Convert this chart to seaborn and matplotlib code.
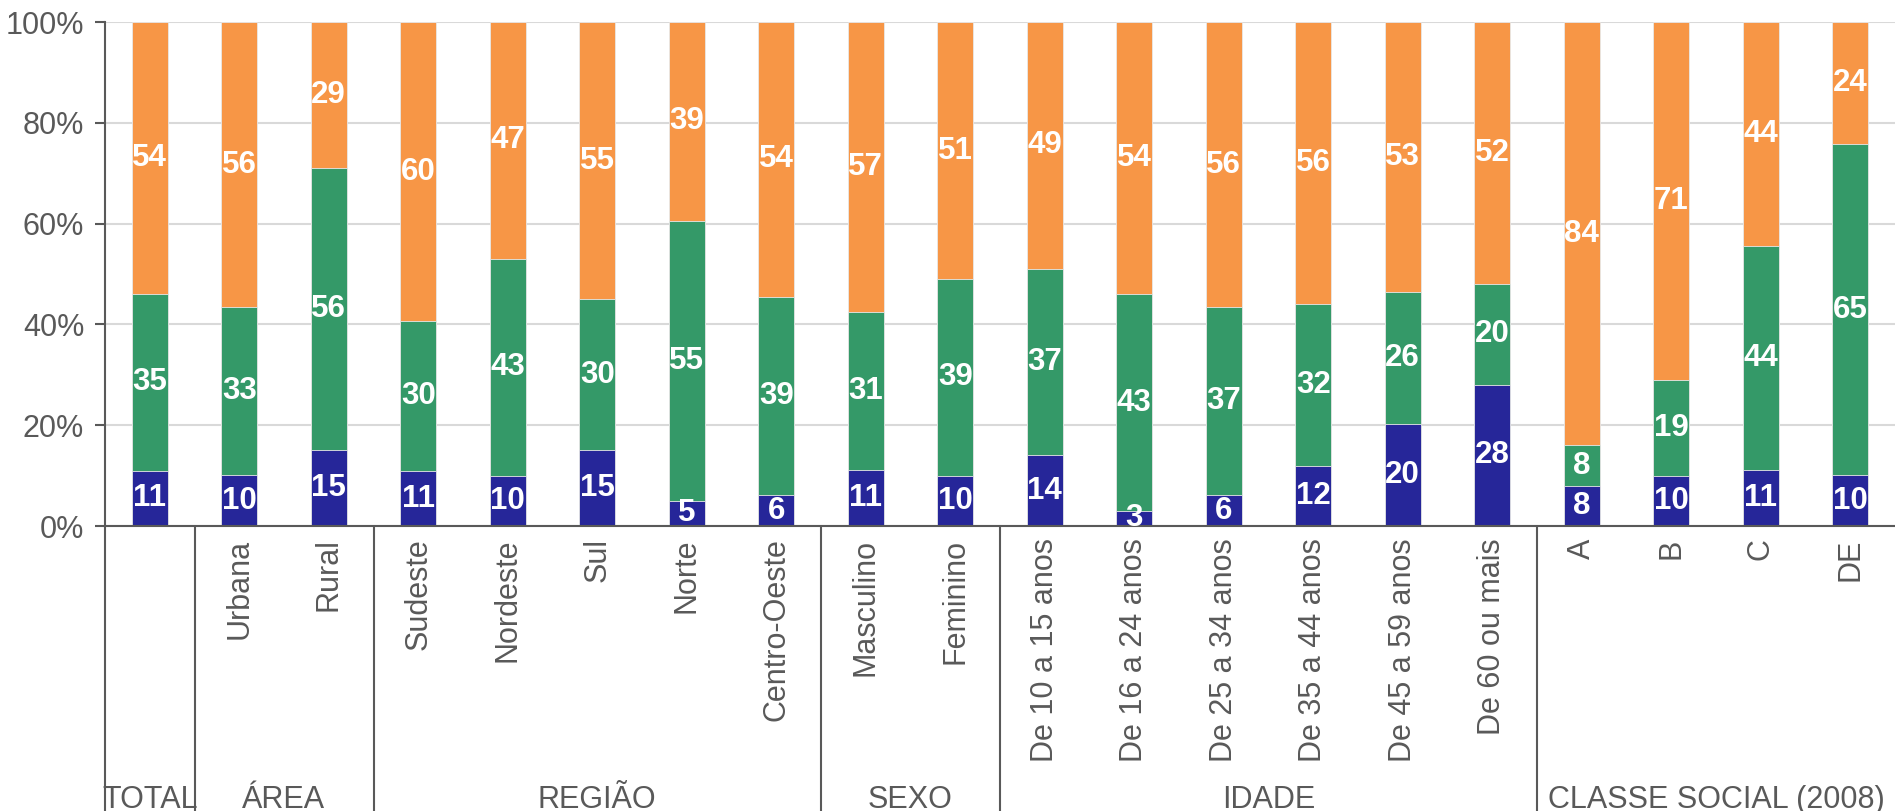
import numpy as np
import pandas as pd
import matplotlib
matplotlib.use("Agg")
import matplotlib.pyplot as plt
import seaborn as sns
from matplotlib import font_manager
from matplotlib.transforms import blended_transform_factory

categories = ["TOTAL", "Urbana", "Rural", "Sudeste", "Nordeste", "Sul", "Norte",
              "Centro-Oeste", "Masculino", "Feminino", "De 10 a 15 anos",
              "De 16 a 24 anos", "De 25 a 34 anos", "De 35 a 44 anos",
              "De 45 a 59 anos", "De 60 ou mais", "A", "B", "C", "DE"]
tick_labels = [""] + categories[1:]
blue_vals = [11, 10, 15, 11, 10, 15, 5, 6, 11, 10, 14, 3, 6, 12, 20, 28, 8, 10, 11, 10]
green_vals = [35, 33, 56, 30, 43, 30, 55, 39, 31, 39, 37, 43, 37, 32, 26, 20, 8, 19, 44, 65]
orange_vals = [54, 56, 29, 60, 47, 55, 39, 54, 57, 51, 49, 54, 56, 56, 53, 52, 84, 71, 44, 24]
groups = ["TOTAL", "ÁREA", "REGIÃO", "SEXO", "IDADE", "CLASSE SOCIAL (2008)"]
group_sizes = [1, 2, 5, 2, 6, 4]

BLUE = "#262699"
GREEN = "#349968"
ORANGE = "#F79646"
GRAY = "#595959"

sns.set_style("white")
plt.rcParams['font.family'] = ['Liberation Sans', 'DejaVu Sans']
names = {f.name for f in font_manager.fontManager.ttflist}
label_family = 'Liberation Sans Narrow' if 'Liberation Sans Narrow' in names else 'Liberation Sans'
label_size = 26 if label_family == 'Liberation Sans Narrow' else 22.5

b = np.array(blue_vals, float)
g = np.array(green_vals, float)
o = np.array(orange_vals, float)
tot = b + g + o
bp = b / tot * 100
gp = g / tot * 100
op = o / tot * 100

df = pd.DataFrame({
    "cat": categories,
    "c1": bp,
    "c2": bp + gp,
    "c3": bp + gp + op,
})

fig = plt.figure(figsize=(18.95, 8.11), dpi=100)
ax = fig.add_axes([105 / 1895, 1 - 526 / 811, 1 - 105 / 1895, 504 / 811])

for col, colr in [("c3", ORANGE), ("c2", GREEN), ("c1", BLUE)]:
    sns.barplot(data=df, x="cat", y=col, order=categories, color=colr,
                saturation=1, width=0.4, ax=ax, zorder=2,
                edgecolor="#e8e8e8", linewidth=0.6)

for i in range(len(categories)):
    segs = [(0, bp[i], blue_vals[i]), (bp[i], bp[i] + gp[i], green_vals[i]),
            (bp[i] + gp[i], 100, orange_vals[i])]
    for lo, hi, v in segs:
        ax.text(i, (lo + hi) / 2, str(v), ha="center", va="center", color="white",
                fontsize=label_size, fontweight="bold", family=label_family, zorder=5)

ax.set_xlim(-0.5, len(categories) - 0.5)
ax.set_ylim(0, 100)
ax.set_xlabel("")
ax.set_ylabel("")
ax.set_yticks([0, 20, 40, 60, 80, 100])
ax.set_yticklabels(["0%", "20%", "40%", "60%", "80%", "100%"])
ax.set_xticks(range(len(categories)))
ax.set_xticklabels(tick_labels, rotation=90, va="top", ha="center")
ax.tick_params(axis="x", length=0, pad=9, labelsize=22, labelcolor=GRAY)
ax.tick_params(axis="y", length=7, width=1.5, color=GRAY, pad=8, labelsize=22,
               labelcolor=GRAY, left=True)
ax.yaxis.grid(True, color="#D9D9D9", linewidth=1.5, zorder=0)
ax.set_axisbelow(True)
for s in ["top", "right"]:
    ax.spines[s].set_visible(False)
for s in ["left", "bottom"]:
    ax.spines[s].set_color(GRAY)
    ax.spines[s].set_linewidth(1.5)

trans = blended_transform_factory(ax.transData, ax.transAxes)
edges = np.cumsum([0] + group_sizes) - 0.5
for x in edges[:-1]:
    ax.plot([x, x], [0, -0.6], transform=trans, color=GRAY, lw=1.5, clip_on=False)
for name, lo, hi in zip(groups, edges[:-1], edges[1:]):
    ax.text((lo + hi) / 2, -0.543, name, transform=trans, ha="center", va="center",
            fontsize=22, color=GRAY)

fig.savefig("out.png", dpi=100)
